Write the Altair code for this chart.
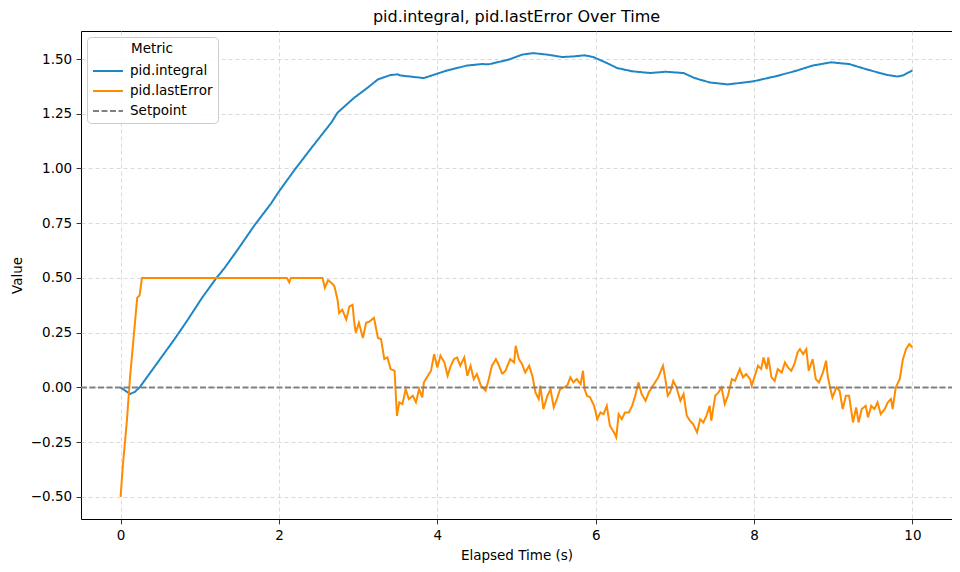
import altair as alt
import pandas as pd

# pid.integral
integral_t = [0.0, 0.06, 0.12, 0.18, 0.24, 0.38, 0.52, 0.68, 0.85, 1.03, 1.21, 1.31, 1.48, 1.69, 1.90, 2.00,
              2.20, 2.41, 2.66, 2.74, 2.95, 3.12, 3.25, 3.41, 3.50, 3.53, 3.83, 4.09, 4.37, 4.56, 4.65,
              4.90, 5.07, 5.21, 5.39, 5.58, 5.72, 5.86, 5.97, 6.14, 6.27, 6.46, 6.69, 6.88, 7.11, 7.25,
              7.44, 7.67, 7.99, 8.27, 8.51, 8.74, 8.97, 9.20, 9.44, 9.67, 9.81, 9.88, 10.0]
integral_v = [0.0, -0.015, -0.03, -0.02, 0.0, 0.07, 0.14, 0.22, 0.31, 0.41, 0.50, 0.544, 0.63, 0.74, 0.84, 0.895,
              0.995, 1.094, 1.209, 1.255, 1.323, 1.369, 1.407, 1.427, 1.43, 1.425, 1.413, 1.444, 1.47, 1.477, 1.476,
              1.497, 1.52, 1.527, 1.52, 1.509, 1.512, 1.517, 1.509, 1.482, 1.459, 1.444, 1.436, 1.442, 1.436, 1.413,
              1.393, 1.384, 1.398, 1.421, 1.444, 1.47, 1.485, 1.477, 1.451, 1.428, 1.42, 1.425, 1.448]

# pid.lastError
error_t = [0.0, 0.03, 0.08, 0.12, 0.17, 0.21, 0.24, 0.27, 1.0, 2.10, 2.13, 2.15, 2.55, 2.58, 2.62, 2.66, 2.70,
           2.74, 2.76, 2.80, 2.85, 2.89, 2.93, 2.95, 2.97, 3.01, 3.06, 3.10, 3.14, 3.20, 3.25, 3.29, 3.33,
           3.37, 3.41, 3.46, 3.49, 3.52, 3.56, 3.60, 3.64, 3.69, 3.73, 3.77, 3.81, 3.83, 3.88, 3.92, 3.96,
           4.00, 4.04, 4.09, 4.13, 4.17, 4.21, 4.25, 4.29, 4.34, 4.38, 4.42, 4.46, 4.50, 4.55, 4.61, 4.65,
           4.69, 4.74, 4.78, 4.82, 4.86, 4.92, 4.97, 4.99, 5.03, 5.07, 5.11, 5.16, 5.20, 5.24, 5.28, 5.30,
           5.34, 5.39, 5.43, 5.47, 5.51, 5.55, 5.60, 5.64, 5.68, 5.72, 5.76, 5.81, 5.84, 5.86, 5.89, 5.93,
           5.98, 6.02, 6.06, 6.10, 6.14, 6.18, 6.23, 6.26, 6.29, 6.33, 6.37, 6.42, 6.46, 6.50, 6.54, 6.58,
           6.63, 6.67, 6.71, 6.75, 6.79, 6.85, 6.88, 6.91, 6.94, 6.98, 7.02, 7.07, 7.11, 7.15, 7.19, 7.23,
           7.28, 7.32, 7.36, 7.40, 7.44, 7.46, 7.51, 7.55, 7.59, 7.63, 7.67, 7.72, 7.76, 7.82, 7.86, 7.90,
           7.95, 7.97, 8.01, 8.05, 8.09, 8.12, 8.16, 8.18, 8.22, 8.26, 8.30, 8.35, 8.39, 8.43, 8.47, 8.51,
           8.55, 8.58, 8.62, 8.66, 8.69, 8.74, 8.78, 8.82, 8.87, 8.91, 8.93, 8.96, 8.99, 9.04, 9.08, 9.12,
           9.16, 9.20, 9.25, 9.29, 9.32, 9.36, 9.41, 9.44, 9.48, 9.52, 9.56, 9.60, 9.65, 9.69, 9.73, 9.75,
           9.79, 9.84, 9.88, 9.92, 9.96, 10.0]
error_v = [-0.50, -0.35, -0.15, 0.05, 0.25, 0.41, 0.42, 0.50, 0.50, 0.50, 0.48, 0.50, 0.50, 0.455, 0.49, 0.478, 0.463,
           0.40, 0.34, 0.355, 0.31, 0.37, 0.377, 0.30, 0.25, 0.295, 0.226, 0.295, 0.30, 0.318, 0.226, 0.22, 0.13,
           0.137, 0.084, 0.076, -0.13, -0.068, -0.076, -0.008, -0.053, -0.038, -0.068, -0.008, -0.046, 0.023, 0.053, 0.076, 0.152,
           0.091, 0.145, 0.114, 0.053, 0.099, 0.129, 0.137, 0.099, 0.137, 0.053, 0.099, 0.038, 0.061, 0.008, -0.015, 0.038,
           0.099, 0.129, 0.099, 0.061, 0.076, 0.129, 0.114, 0.19, 0.129, 0.107, 0.068, 0.099, 0.053, -0.023, -0.053, 0.008,
           -0.099, -0.038, -0.008, -0.091, -0.053, -0.008, 0.0, 0.008, 0.046, 0.023, 0.038, 0.015, 0.076, -0.008, -0.038, -0.046,
           -0.084, -0.145, -0.114, -0.122, -0.084, -0.175, -0.205, -0.228, -0.122, -0.145, -0.114, -0.114, -0.084, -0.038, 0.023, -0.030,
           -0.061, -0.023, 0.0, 0.023, 0.046, 0.099, 0.038, -0.038, -0.023, 0.030, 0.0, -0.061, -0.030, -0.129, -0.152, -0.167,
           -0.205, -0.145, -0.160, -0.129, -0.084, -0.152, -0.038, -0.023, 0.0, -0.076, -0.038, 0.038, 0.030, 0.084, 0.046, 0.061,
           0.038, 0.008, 0.053, 0.099, 0.084, 0.137, 0.084, 0.137, 0.046, 0.030, 0.084, 0.068, 0.114, 0.091, 0.076, 0.107,
           0.160, 0.175, 0.152, 0.175, 0.076, 0.129, 0.038, 0.023, 0.068, 0.122, 0.053, 0.0, -0.046, 0.0, -0.015, -0.099,
           -0.038, -0.038, -0.160, -0.091, -0.160, -0.099, -0.084, -0.137, -0.084, -0.099, -0.068, -0.122, -0.099, -0.068, -0.053, -0.099,
           0.0, 0.038, 0.129, 0.175, 0.198, 0.183]

setpoint_t = [-0.5, 10.5]
setpoint_v = [0.0, 0.0]

series_names = ["pid.integral", "pid.lastError", "Setpoint"]
series_colors = ["#1f86c6", "#ff8c00", "#808080"]

rows = []
for t, v in zip(integral_t, integral_v):
    rows.append({"t": t, "v": v, "Metric": "pid.integral"})
for t, v in zip(error_t, error_v):
    rows.append({"t": t, "v": v, "Metric": "pid.lastError"})
for t, v in zip(setpoint_t, setpoint_v):
    rows.append({"t": t, "v": v, "Metric": "Setpoint"})
df = pd.DataFrame(rows)

FONT = "DejaVu Sans"
FS = 13.5

legend = alt.Legend(
    orient="none", legendX=6, legendY=6, title="Metric",
    fillColor="rgba(255,255,255,0.85)", strokeColor="#cccccc", cornerRadius=4, padding=5,
    titleFont=FONT, titleFontSize=FS, titleFontWeight="normal", titleColor="#000",
    titleAnchor="middle", titleAlign="center", titlePadding=5,
    labelFont=FONT, labelFontSize=FS, labelColor="#000",
    symbolType="M-1,0L2.15,0", symbolSize=361, symbolStrokeWidth=2,
    rowPadding=3, labelOffset=17,
)

chart = alt.Chart(df).mark_line(strokeWidth=2, clip=True).encode(
    x=alt.X("t:Q", title="Elapsed Time (s)",
            scale=alt.Scale(domain=[-0.5, 10.5], nice=False, zero=False),
            axis=alt.Axis(values=[0, 2, 4, 6, 8, 10], format="d")),
    y=alt.Y("v:Q", title="Value",
            scale=alt.Scale(domain=[-0.601, 1.628], nice=False, zero=False),
            axis=alt.Axis(values=[-0.5, -0.25, 0, 0.25, 0.5, 0.75, 1.0, 1.25, 1.5], format=".2f")),
    color=alt.Color("Metric:N", title="Metric",
                    scale=alt.Scale(domain=series_names, range=series_colors),
                    sort=series_names, legend=legend),
    strokeDash=alt.StrokeDash("Metric:N", title="Metric",
                              scale=alt.Scale(domain=series_names, range=[[1, 0], [1, 0], [6, 2.5]]),
                              sort=series_names, legend=legend),
).properties(
    width=871, height=488,
    title=alt.TitleParams("pid.integral, pid.lastError Over Time", fontSize=16, font=FONT,
                          fontWeight="normal", color="#000", offset=6),
    padding={"left": 2, "top": 1, "right": 0, "bottom": 0},
).configure_view(
    stroke="#000", strokeWidth=1
).configure_axis(
    grid=True, gridColor="#d0d0d0", gridDash=[4, 3], gridWidth=0.8,
    domain=False, tickColor="#000", tickSize=4.9, tickWidth=0.8,
    labelFont=FONT, labelFontSize=FS, labelColor="#000", labelPadding=4.5,
    titleFont=FONT, titleFontSize=FS, titleColor="#000", titleFontWeight="normal",
).configure_axisX(titlePadding=7, labelFlush=False).configure_axisY(titlePadding=6, labelFlush=False)

chart.save("out.html", embed_options={"renderer": "svg", "actions": False})
